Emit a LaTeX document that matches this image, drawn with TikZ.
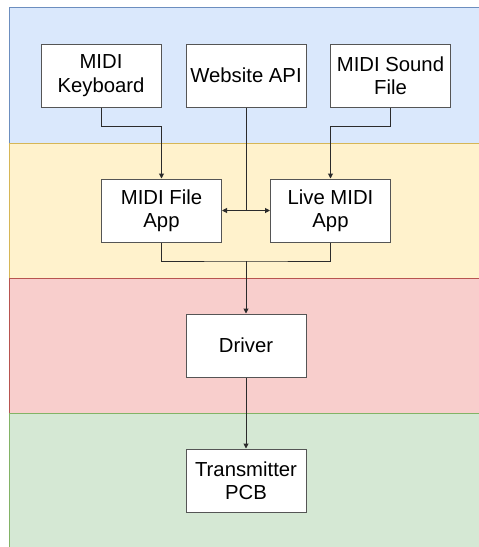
\documentclass[tikz,border=0pt]{standalone}
\usepackage{fontspec}
\setmainfont{Liberation Sans}
\usetikzlibrary{arrows.meta}
\definecolor{laneblue}{HTML}{DAE8FC}\definecolor{laneblueline}{HTML}{6C8EBF}
\definecolor{laneyellow}{HTML}{FFF2CC}\definecolor{laneyellowline}{HTML}{D6B656}
\definecolor{lanered}{HTML}{F8CECC}\definecolor{laneredline}{HTML}{B85450}
\definecolor{lanegreen}{HTML}{D5E8D4}\definecolor{lanegreenline}{HTML}{82B366}
\definecolor{boxline}{HTML}{555555}
\definecolor{wire}{HTML}{2B2B2B}
\tikzset{
  lane/.style={line width=0.8pt},
  block/.style={draw=boxline, fill=white, line width=1pt, minimum width=120pt,
    minimum height=63pt, inner sep=0pt, align=center, text=black,
    font=\fontsize{20.3}{23.5}\selectfont},
  link/.style={draw=wire, line width=1pt, -{Triangle[length=5pt,width=5pt]}},
  dlink/.style={draw=wire, line width=1pt, {Triangle[length=5pt,width=5pt]}-{Triangle[length=5pt,width=5pt]}},
  plain/.style={draw=wire, line width=1pt}
}
\begin{document}
\begin{tikzpicture}[x=1pt,y=-1pt]
  \useasboundingbox (0,0) rectangle (479,547);
  % horizontal swim lanes
  \draw[lane, fill=laneblue, draw=laneblueline] (9,7.5) rectangle (500,143);
  \draw[lane, fill=laneyellow, draw=laneyellowline] (9,143) rectangle (500,278);
  \draw[lane, fill=lanered, draw=laneredline] (9,278) rectangle (500,413);
  \draw[lane, fill=lanegreen, draw=lanegreenline] (9,413) rectangle (500,560);

  % sources
  \node[block] (kbd) at (101,75.5) {MIDI\\Keyboard};
  \node[block] (api) at (246,75.5) {Website API};
  \node[block] (snd) at (390.5,75.5) {MIDI Sound\\File};
  % applications
  \node[block] (fileapp) at (161.5,210.5) {MIDI File\\App};
  \node[block] (liveapp) at (330.5,210.5) {Live MIDI\\App};
  % hardware chain
  \node[block] (drv) at (246,345.5) {Driver};
  \node[block] (tx) at (246,480.5) {Transmitter\\PCB};

  % junction points
  \coordinate (apijoin) at (api.south |- fileapp.east);
  \coordinate (merge) at (246,261);

  \draw[link] (kbd.south) |- (161.5,126) -- (fileapp.north);
  \draw[link] (snd.south) |- (330.5,126) -- (liveapp.north);
  \draw[plain] (api.south) -- (apijoin);
  \draw[dlink] (fileapp.east) -- (liveapp.west);
  \draw[plain] (fileapp.south) |- (merge) -| (liveapp.south);
  \draw[link] (merge) -- (drv.north);
  \draw[link] (drv.south) -- (tx.north);
\end{tikzpicture}
\end{document}
